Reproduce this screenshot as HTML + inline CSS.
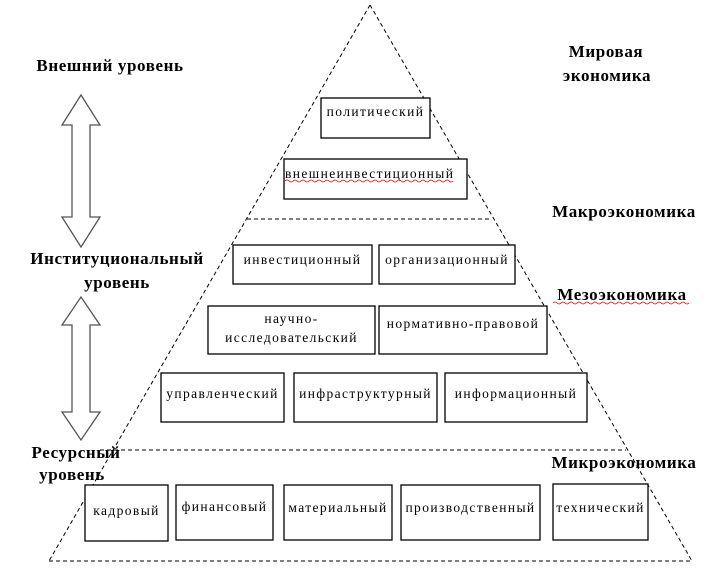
<!DOCTYPE html>
<html><head><meta charset="utf-8"><style>
html,body{margin:0;padding:0;background:#fff;}
svg{display:block;}
.b{font-family:"Liberation Serif",serif;font-weight:bold;font-size:17px;fill:#000;letter-spacing:0.6px;}
.t{font-family:"Liberation Serif",serif;font-size:13.5px;fill:#000;letter-spacing:1.4px;}
rect{fill:#fff;stroke:#000;stroke-width:1.3;}
.d{stroke:#000;stroke-width:1;stroke-dasharray:4,3;fill:none;}
</style></head><body>
<svg width="721" height="570" viewBox="0 0 721 570" xmlns="http://www.w3.org/2000/svg">
<line class="d" x1="370" y1="5" x2="49" y2="561"/>
<line class="d" x1="370" y1="5" x2="692" y2="561"/>
<line class="d" x1="49" y1="561" x2="692" y2="561"/>
<line class="d" x1="247" y1="219" x2="490" y2="219"/>
<line class="d" x1="100" y1="450" x2="626" y2="450"/>

<rect x="321" y="98" width="109" height="40"/><text class="t" x="375.5" y="116" text-anchor="middle">политический</text>
<rect x="284" y="159" width="183" height="40"/><text class="t" x="285" y="178">внешнеинвестиционный</text>
<path d="M285 181 q2 -2 4 0 t4 0 t4 0 t4 0 t4 0 t4 0 t4 0 t4 0 t4 0 t4 0 t4 0 t4 0 t4 0 t4 0 t4 0 t4 0 t4 0 t4 0 t4 0 t4 0 t4 0 t4 0 t4 0 t4 0 t4 0 t4 0 t4 0 t4 0 t4 0 t4 0 t4 0 t4 0 t4 0 t4 0 t4 0 t4 0 t4 0 t4 0 t4 0 t4 0 t4 0 t4 0" stroke="#e00" stroke-width="0.8" fill="none"/>
<rect x="233" y="245" width="139" height="39"/><text class="t" x="302.5" y="264" text-anchor="middle">инвестиционный</text>
<rect x="379" y="245" width="136" height="39"/><text class="t" x="447" y="264" text-anchor="middle">организационный</text>
<rect x="208" y="306" width="167" height="48"/><text class="t" x="291.5" y="323" text-anchor="middle">научно-</text><text class="t" x="291.5" y="342" text-anchor="middle">исследовательский</text>
<rect x="379" y="306" width="168" height="48"/><text class="t" x="463" y="328" text-anchor="middle">нормативно-правовой</text>
<rect x="161" y="373" width="123" height="49"/><text class="t" x="222.5" y="398" text-anchor="middle">управленческий</text>
<rect x="294" y="373" width="143" height="49"/><text class="t" x="365.5" y="398" text-anchor="middle">инфраструктурный</text>
<rect x="445" y="373" width="142" height="49"/><text class="t" x="516" y="398" text-anchor="middle">информационный</text>
<rect x="85" y="485" width="83" height="56"/><text class="t" x="126.5" y="515" text-anchor="middle">кадровый</text>
<rect x="176" y="485" width="97" height="55"/><text class="t" x="224.5" y="511" text-anchor="middle">финансовый</text>
<rect x="284" y="485" width="108" height="55"/><text class="t" x="338" y="512" text-anchor="middle">материальный</text>
<rect x="401" y="485" width="139" height="55"/><text class="t" x="470.5" y="512" text-anchor="middle">производственный</text>
<rect x="553" y="484" width="95" height="56"/><text class="t" x="600.5" y="512" text-anchor="middle">технический</text>

<path d="M81 95 L100 125 L90 125 L90 217 L100 217 L81 247 L62 217 L72 217 L72 125 L62 125 Z" fill="#fff" stroke="#555" stroke-width="1.3"/>
<path d="M81 297 L100 325 L90 325 L90 412 L100 412 L81 440 L62 412 L72 412 L72 325 L62 325 Z" fill="#fff" stroke="#555" stroke-width="1.3"/>

<text class="b" x="110" y="71" text-anchor="middle">Внешний уровень</text>
<text class="b" x="117" y="264" text-anchor="middle">Институциональный</text>
<text class="b" x="117" y="288" text-anchor="middle">уровень</text>
<text class="b" x="76" y="458" text-anchor="middle">Ресурсный</text>
<text class="b" x="72" y="480" text-anchor="middle">уровень</text>
<text class="b" x="606" y="57" text-anchor="middle">Мировая</text>
<text class="b" x="607" y="81" text-anchor="middle">экономика</text>
<text class="b" x="624" y="217" text-anchor="middle">Макроэкономика</text>
<text class="b" x="622" y="300" text-anchor="middle">Мезоэкономика</text>
<path d="M553 303 q2 -2 4 0 t4 0 t4 0 t4 0 t4 0 t4 0 t4 0 t4 0 t4 0 t4 0 t4 0 t4 0 t4 0 t4 0 t4 0 t4 0 t4 0 t4 0 t4 0 t4 0 t4 0 t4 0 t4 0 t4 0 t4 0 t4 0 t4 0 t4 0 t4 0 t4 0 t4 0 t4 0 t4 0 t4 0" stroke="#e00" stroke-width="0.8" fill="none"/>
<text class="b" x="624" y="468" text-anchor="middle">Микроэкономика</text>
</svg>
</body></html>
